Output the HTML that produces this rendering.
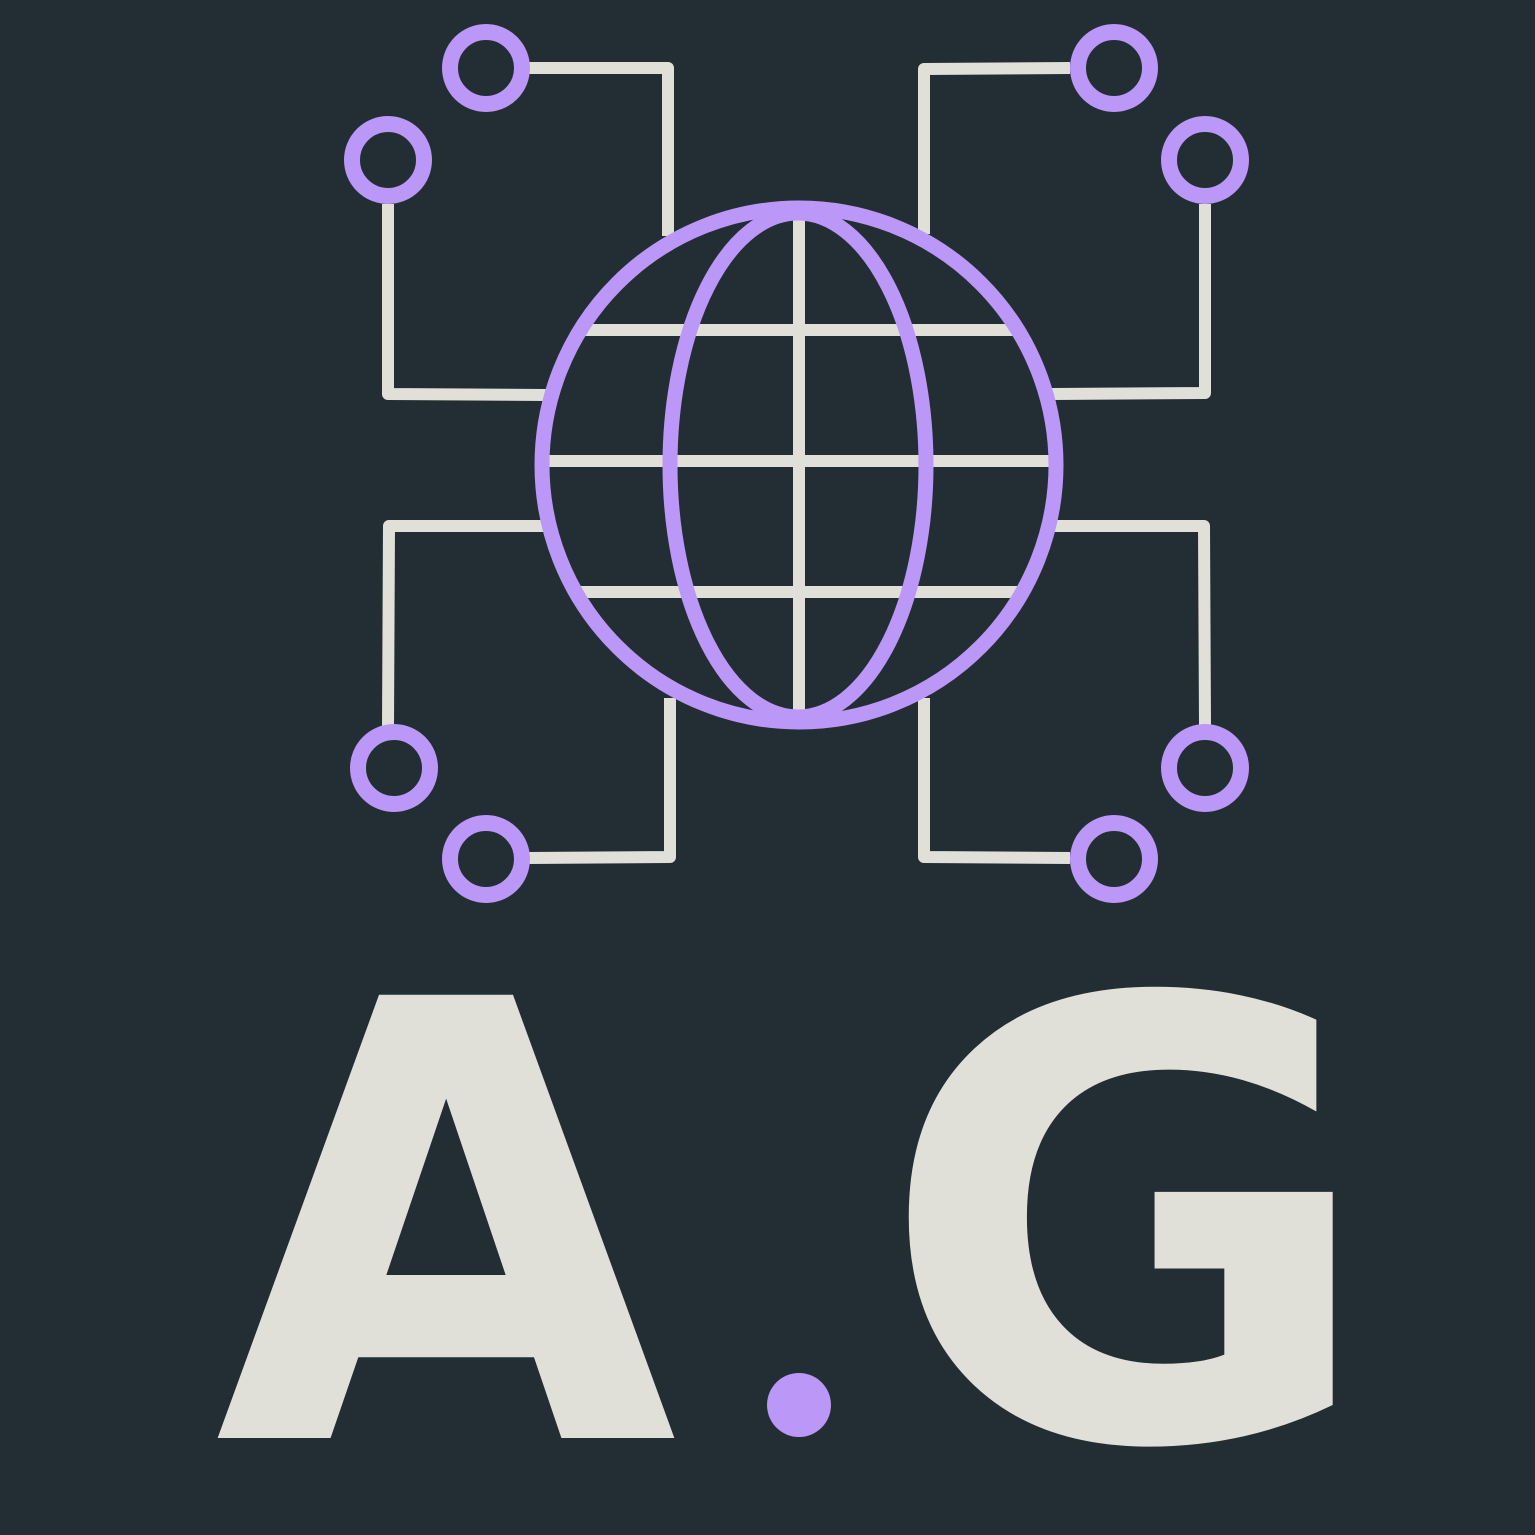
<!DOCTYPE html>
<html><head><meta charset="utf-8"><style>
html,body{margin:0;padding:0;background:#232e34;}
svg{display:block}
</style></head><body>
<svg width="1535" height="1535" viewBox="0 0 1535 1535">
<rect width="1535" height="1535" fill="#232e34"/>
<g fill="none" stroke="#e0e0d8" stroke-width="12" stroke-linejoin="round">
  <polyline points="528,68 668,68 668,236"/>
  <polyline points="388,204 388,394 546,395"/>
  <polyline points="1070,68 924,69 924,234"/>
  <polyline points="1205,204 1205,393 1052,394"/>
  <polyline points="388,726 389,526 544,526"/>
  <polyline points="528,858 670,857 670,698"/>
  <polyline points="1205,726 1204,526 1054,526"/>
  <polyline points="1070,858 924,857 924,698"/>
  <line x1="799" y1="212" x2="799" y2="716"/>
  <line x1="584" y1="330" x2="1014" y2="330"/>
  <line x1="548" y1="461" x2="1050" y2="461"/>
  <line x1="578" y1="592" x2="1020" y2="592"/>
</g>
<g fill="none" stroke="#bb97f7">
  <circle cx="799" cy="465" r="257" stroke-width="15"/>
  <ellipse cx="798" cy="465" rx="128" ry="252" stroke-width="15"/>
</g>
<g fill="none" stroke="#bb97f7" stroke-width="16">
  <circle cx="486" cy="68" r="36"/>
  <circle cx="388" cy="160" r="36"/>
  <circle cx="1114" cy="68" r="36"/>
  <circle cx="1205" cy="160" r="36"/>
  <circle cx="394" cy="768" r="36"/>
  <circle cx="486" cy="859" r="36"/>
  <circle cx="1205" cy="768" r="36"/>
  <circle cx="1114" cy="859" r="36"/>
</g>
<text x="0" y="1438" transform="translate(446 0) scale(0.983 1)" text-anchor="middle" font-family="'DejaVu Sans', 'Liberation Sans', sans-serif" font-weight="bold" font-size="608" fill="#e0e0d8">A</text>
<circle cx="799" cy="1405" r="32" fill="#bb97f7"/>
<text x="1128" y="1438" text-anchor="middle" font-family="'DejaVu Sans', 'Liberation Sans', sans-serif" font-weight="bold" font-size="608" fill="#e0e0d8">G</text>
</svg>
</body></html>
